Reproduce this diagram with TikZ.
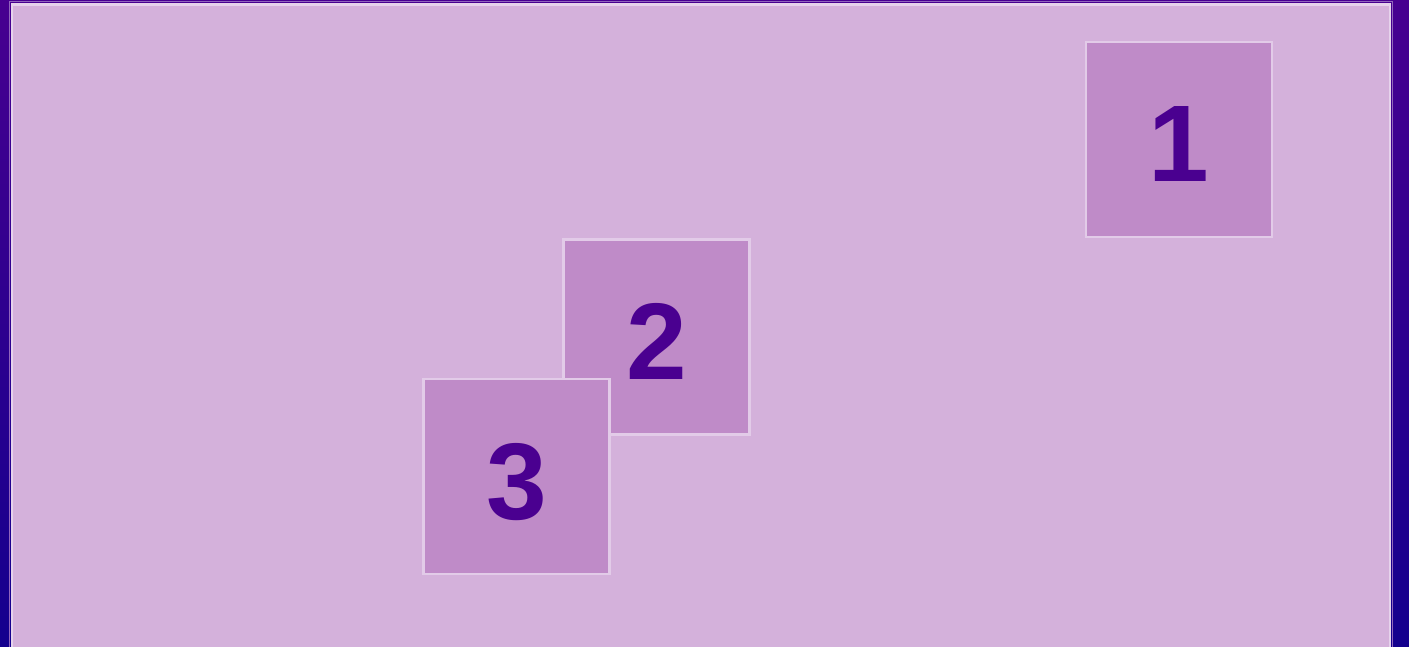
\documentclass[tikz,border=0pt]{standalone}
\usepackage{fontspec}
\setmainfont{Liberation Sans}
\usetikzlibrary{positioning}
\definecolor{bgtop}{HTML}{470090}
\definecolor{bgbottom}{HTML}{14008E}
\definecolor{panelfill}{HTML}{D4B1DB}
\definecolor{panelrim}{HTML}{E6D3EB}
\definecolor{tilefill}{HTML}{BF8BC8}
\definecolor{tilerim}{HTML}{E2CBE8}
\definecolor{digitink}{HTML}{4A0090}
\tikzset{
  panel/.style = {fill=panelfill, draw=panelrim, line width=2.5pt},
  tile/.style  = {rectangle, draw=tilerim, line width=2.5pt, fill=tilefill,
                  minimum width=186pt, minimum height=195pt, inner sep=0pt,
                  text height=85pt, text depth=0pt,
                  text=digitink, font=\fontsize{109}{120}\selectfont\bfseries},
}

\begin{document}
\begin{tikzpicture}[x=1pt, y=-1pt]
\useasboundingbox (0,0) rectangle (1409,647);

% Backdrop and the light panel on it
\shade [top color=bgtop, bottom color=bgbottom] (0,0) rectangle (1409,647);
\draw [draw=bgtop!60!white, line width=1pt] (9.5,2) rectangle (1392.5,670);
\path [panel] (12,4.5) rectangle (1390,670);

% Numbered tiles; 3 lies over 2
\node (tile1) [tile] at (1179,139.5) {1};
\node (tile2) [tile] at (656.5,337)  {2};
\node (tile3) [tile] at (516.5,476.5) {3};

\end{tikzpicture}
\end{document}
